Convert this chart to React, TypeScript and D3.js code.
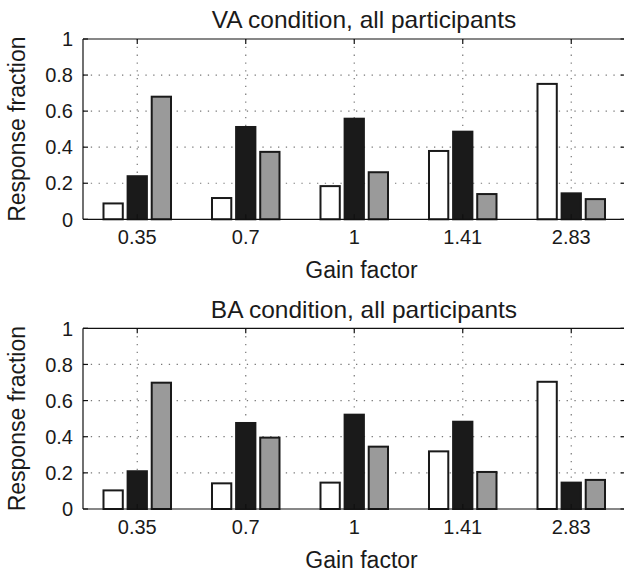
import React from "react";
import * as d3 from "d3";

const categories = ["0.35", "0.7", "1", "1.41", "2.83"];
const yTicks = [0, 0.2, 0.4, 0.6, 0.8, 1];

const vaWhite = [0.088, 0.118, 0.184, 0.379, 0.751];
const vaBlack = [0.239, 0.512, 0.558, 0.486, 0.144];
const vaGray = [0.68, 0.374, 0.261, 0.14, 0.112];

const baWhite = [0.103, 0.142, 0.146, 0.319, 0.704];
const baBlack = [0.209, 0.476, 0.522, 0.483, 0.146];
const baGray = [0.699, 0.395, 0.345, 0.205, 0.161];

const seriesFill = ["#ffffff", "#1a1a1a", "#9a9a9a"];

const FONT = "'Liberation Sans', Arial, Helvetica, sans-serif";

type PanelProps = {
  title: string;
  series: number[][];
  top: number;
  bottom: number;
};

function Panel({ title, series, top, bottom }: PanelProps) {
  const left = 83;
  const right = 625.5;
  const x = d3.scaleLinear().domain([0.5, categories.length + 0.5]).range([left, right]);
  const y = d3.scaleLinear().domain([0, 1]).range([bottom, top]);
  const nS = series.length;
  const groupW = Math.min(0.8, nS / (nS + 1.5));
  const step = groupW / nS;
  const barW = step * 0.8;
  const tick = 5;
  return (
    <g>
      <g transform={`translate(364,${top - 10.7}) scale(1.065,1)`}>
        <text x={0} y={0} textAnchor="middle" fontSize={23} fontFamily={FONT} fill="#1a1a1a">
          {title}
        </text>
      </g>
      {/* grid */}
      {yTicks.slice(1, -1).map((t) => (
        <line key={"gy" + t} x1={left} x2={right} y1={y(t)} y2={y(t)} stroke="#777" strokeWidth={1.2} strokeDasharray="1.3,6.5" />
      ))}
      {categories.map((c, i) => (
        <line key={"gx" + c} x1={x(i + 1)} x2={x(i + 1)} y1={top} y2={bottom} stroke="#777" strokeWidth={1.2} strokeDasharray="1.3,6.5" />
      ))}
      {/* bars */}
      {series.map((vals, j) =>
        vals.map((v, i) => {
          const cx = x(i + 1 + (j - (nS - 1) / 2) * step);
          const w = x(barW) - x(0);
          return (
            <rect
              key={"b" + j + "-" + i}
              x={cx - w / 2}
              y={y(v)}
              width={w}
              height={y(0) - y(v)}
              fill={seriesFill[j]}
              stroke="#1a1a1a"
              strokeWidth={2}
            />
          );
        })
      )}
      {/* box */}
      <line x1={left} x2={right} y1={top} y2={top} stroke="#111" strokeWidth={1.2} />
      <line x1={left} x2={right} y1={bottom} y2={bottom} stroke="#111" strokeWidth={1.2} />
      <line x1={left} x2={left} y1={top} y2={bottom} stroke="#111" strokeWidth={1.2} />
      <line x1={right} x2={right} y1={top} y2={bottom} stroke="#111" strokeWidth={1.2} />
      {/* y ticks */}
      {yTicks.map((t) => (
        <g key={"yt" + t}>
          <line x1={left} x2={left + tick} y1={y(t)} y2={y(t)} stroke="#111" strokeWidth={1.2} />
          <line x1={right - tick} x2={right} y1={y(t)} y2={y(t)} stroke="#111" strokeWidth={1.2} />
          <text x={left - 10} y={y(t)} dy="0.36em" textAnchor="end" fontSize={20} fontFamily={FONT} fill="#1a1a1a">
            {String(t)}
          </text>
        </g>
      ))}
      {/* x ticks */}
      {categories.map((c, i) => (
        <g key={"xt" + c}>
          <line x1={x(i + 1)} x2={x(i + 1)} y1={top} y2={top + tick} stroke="#111" strokeWidth={1.2} />
          <line x1={x(i + 1)} x2={x(i + 1)} y1={bottom} y2={bottom - tick} stroke="#111" strokeWidth={1.2} />
          <text x={x(i + 1)} y={bottom + 24.5} textAnchor="middle" fontSize={20} fontFamily={FONT} fill="#1a1a1a">
            {c}
          </text>
        </g>
      ))}
      <text x={361.5} y={bottom + 59} textAnchor="middle" fontSize={23} fontFamily={FONT} fill="#1a1a1a">
        Gain factor
      </text>
      <text
        transform={`translate(25,${(top + bottom) / 2}) rotate(-90)`}
        textAnchor="middle"
        fontSize={23}
        fontFamily={FONT}
        fill="#1a1a1a"
      >
        Response fraction
      </text>
    </g>
  );
}

export default function App() {
  return (
    <svg
      width={624}
      height={573}
      viewBox="0 0 624 573"
      style={{ position: "absolute", left: 0, top: 0, background: "#fff" }}
    >
      <rect x={0} y={0} width={624} height={573} fill="#fff" />
      <Panel title="VA condition, all participants" series={[vaWhite, vaBlack, vaGray]} top={39} bottom={219.3} />
      <Panel title="BA condition, all participants" series={[baWhite, baBlack, baGray]} top={328.3} bottom={509} />
    </svg>
  );
}
